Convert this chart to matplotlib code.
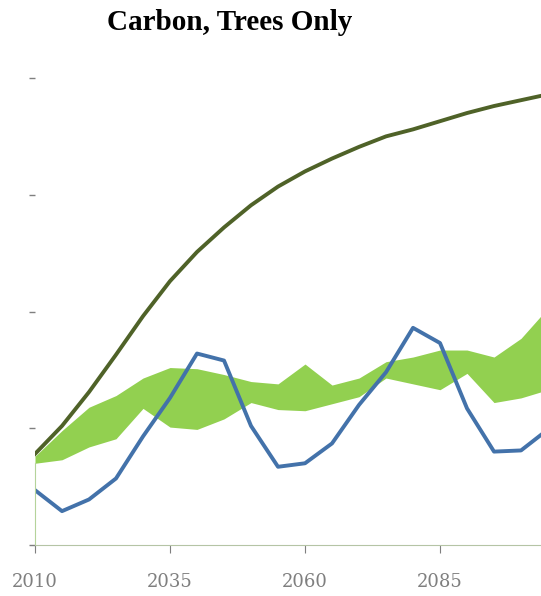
import numpy as np
import matplotlib.pyplot as plt

years = list(range(2010, 2110, 5))
trees_total = [0.78, 1.02, 1.31, 1.63, 1.96, 2.26, 2.51, 2.72, 2.91, 3.07,
               3.20, 3.31, 3.41, 3.50, 3.56, 3.63, 3.70, 3.76, 3.81, 3.86]
carbon_flux = [0.47, 0.29, 0.39, 0.57, 0.93, 1.26, 1.64, 1.58, 1.02, 0.67,
               0.70, 0.87, 1.20, 1.48, 1.86, 1.73, 1.17, 0.80, 0.81, 0.99]
band_upper = [0.76, 0.98, 1.18, 1.28, 1.43, 1.52, 1.51, 1.46, 1.40, 1.38,
              1.55, 1.37, 1.43, 1.57, 1.61, 1.67, 1.67, 1.61, 1.77, 2.03]
band_lower = [0.70, 0.73, 0.84, 0.91, 1.17, 1.01, 0.99, 1.08, 1.22, 1.16,
              1.15, 1.21, 1.27, 1.43, 1.38, 1.33, 1.47, 1.22, 1.26, 1.33]
xticks = [2010, 2035, 2060, 2085]

fig = plt.figure(figsize=(5.41, 5.96), dpi=100)
ax = fig.add_axes([35/541, 51/596, 1 - 35/541, (545-78)/596])

ax.fill_between(years, band_lower, band_upper, color='#92d050', lw=0, zorder=1)
ax.plot(years, trees_total, color='#4f6228', lw=2.8, zorder=3)
ax.plot(years, carbon_flux, color='#4372aa', lw=2.8, zorder=2)

ax.set_xlim(2010, 2103.7)
ax.set_ylim(0, 4)
ax.set_yticks([0, 1, 2, 3, 4])
ax.set_yticklabels([])
ax.set_xticks(xticks)
ax.set_xticklabels([str(t) for t in xticks], family='DejaVu Serif',
                   fontsize=13, color='#7f7f7f')
ax.tick_params(axis='x', length=6, color='#7f7f7f', pad=14, direction='out')
ax.tick_params(axis='y', length=4.5, color='#7f7f7f', width=1)

for s in ['top', 'right']:
    ax.spines[s].set_visible(False)
ax.spines['bottom'].set_color('#b5c4a5')
ax.spines['left'].set_color('#b5d39a')
ax.spines['left'].set_bounds(0, band_lower[0])

fig.text(230/541, 1 - 22/596, 'Carbon, Trees Only', ha='center', va='center',
         family='Liberation Serif', fontweight='bold', fontsize=21)

fig.savefig('out.png', dpi=100)
